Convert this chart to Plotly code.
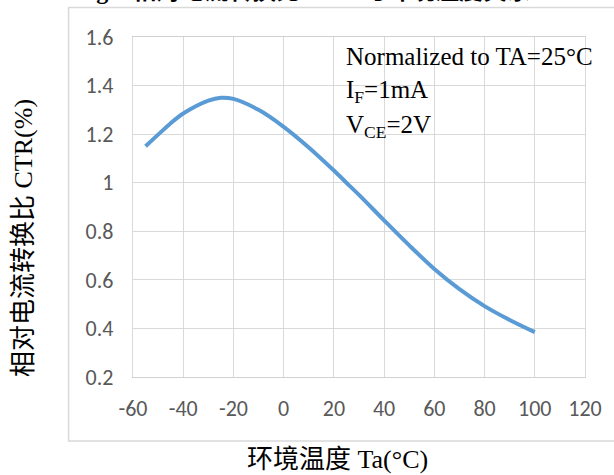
import plotly.graph_objects as go

# Data
temp_c = [-55, -50, -45, -40, -30, -25, -20, -10, 0, 10, 20, 25, 30, 40, 50, 60, 70, 80, 90, 100]
ctr_rel = [1.15, 1.198, 1.245, 1.285, 1.338, 1.35, 1.345, 1.30, 1.23, 1.145, 1.05, 1.0, 0.95,
           0.845, 0.742, 0.645, 0.562, 0.492, 0.435, 0.385]
x_ticks = [-60, -40, -20, 0, 20, 40, 60, 80, 100, 120]
y_ticks = [0.2, 0.4, 0.6, 0.8, 1.0, 1.2, 1.4, 1.6]
y_tick_text = ["0.2", "0.4", "0.6", "0.8", "1", "1.2", "1.4", "1.6"]

W, H = 614, 475
L, R, T, B = 133, 25, 37, 98
PW, PH = W - L - R, H - T - B


def px(xp):
    return (xp - L) / PW


def py(yp):
    return (H - B - yp) / PH


fig = go.Figure()
fig.add_trace(go.Scatter(
    x=temp_c, y=ctr_rel, mode="lines",
    line=dict(color="#5B9BD5", width=4, shape="spline", smoothing=0.9),
    hoverinfo="skip", showlegend=False,
))

tick_font = dict(family="Calibri, Carlito, Lato, sans-serif", size=22, color="#595959")
serif = "Times New Roman, Liberation Serif, Noto Sans CJK SC, serif"

fig.update_xaxes(
    range=[-60, 120], tickvals=x_ticks, ticktext=[str(v) for v in x_ticks],
    showgrid=True, gridcolor="#D9D9D9", gridwidth=1.3,
    showline=True, linecolor="#D0D0D0", linewidth=1.3, mirror=True,
    zeroline=False, ticks="", tickfont=tick_font, ticklabelstandoff=11,
)
fig.update_yaxes(
    range=[0.2, 1.6], tickvals=y_ticks, ticktext=y_tick_text,
    showgrid=True, gridcolor="#D9D9D9", gridwidth=1.3,
    showline=True, linecolor="#D9D9D9", linewidth=1.3, mirror=True,
    zeroline=False, ticks="", tickfont=tick_font, ticklabelstandoff=14,
)

annotations = [
    dict(text="Normalized to TA=25°C", x=px(346), y=py(56.5), xanchor="left", yanchor="middle"),
    dict(text="I<sub>F</sub>=1mA", x=px(346), y=py(91.5), xanchor="left", yanchor="middle"),
    dict(text="V<sub>CE</sub>=2V", x=px(346), y=py(126.5), xanchor="left", yanchor="middle"),
]
for a in annotations:
    a.update(xref="paper", yref="paper", showarrow=False,
             font=dict(family=serif, size=25, color="#000000"))

annotations += [
    dict(text="环境温度 Ta(°C)", x=px(339), y=py(459), xref="paper", yref="paper",
         xanchor="center", yanchor="middle", showarrow=False,
         font=dict(family=serif, size=26, color="#000000")),
    dict(text="相对电流转换比 CTR(%)", x=px(22), y=py(238), xref="paper", yref="paper",
         xanchor="center", yanchor="middle", textangle=-90, showarrow=False,
         font=dict(family=serif, size=26, color="#000000")),
    dict(text="<b>Fig.6 相对电流转换比 CTR 与环境温度关系</b>", x=px(72), y=py(-9),
         xref="paper", yref="paper", xanchor="left", yanchor="middle", showarrow=False,
         font=dict(family=serif, size=24, color="#000000")),
]

fig.update_layout(
    width=W, height=H,
    margin=dict(l=L, r=R, t=T, b=B),
    paper_bgcolor="white", plot_bgcolor="white",
    annotations=annotations,
    shapes=[dict(type="rect", xref="paper", yref="paper",
                 x0=px(68), x1=px(620), y0=py(441), y1=py(7.5),
                 line=dict(color="#D9D9D9", width=1.5), layer="below")],
)

fig.write_html("out.html")
